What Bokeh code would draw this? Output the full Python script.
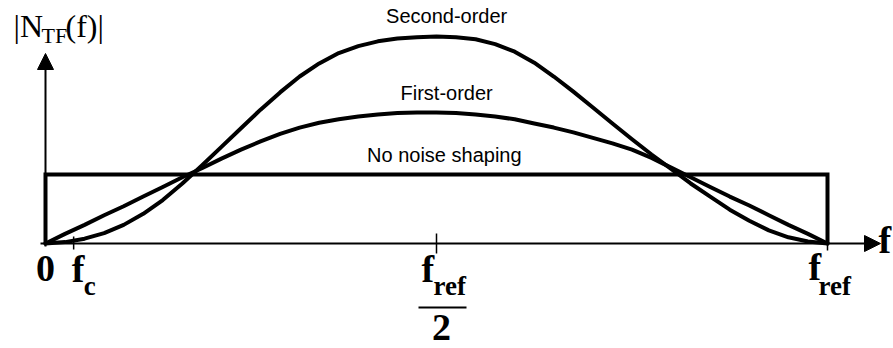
from bokeh.plotting import figure
from bokeh.models import Range1d, Label, Arrow, NormalHead
from bokeh.embed import file_html
from bokeh.resources import INLINE

# Frequency in units of f_ref, magnitude in units of the flat (unshaped) noise level
FREQ = [0.000, 0.025, 0.050, 0.075, 0.100, 0.125, 0.150, 0.175, 0.200, 0.225,
        0.250, 0.275, 0.300, 0.325, 0.350, 0.375, 0.400, 0.425, 0.450, 0.475,
        0.500, 0.525, 0.550, 0.575, 0.600, 0.625, 0.650, 0.675, 0.700, 0.725,
        0.750, 0.775, 0.800, 0.825, 0.850, 0.875, 0.900, 0.925, 0.950, 0.975, 1.000]
FIRST_ORDER = [0.00, 0.14, 0.27, 0.41, 0.54, 0.68, 0.82, 0.96, 1.09, 1.23,
               1.36, 1.48, 1.59, 1.68, 1.75, 1.80, 1.84, 1.87, 1.89, 1.90,
               1.90, 1.89, 1.87, 1.84, 1.80, 1.74, 1.68, 1.61, 1.53, 1.45,
               1.36, 1.24, 1.10, 0.96, 0.82, 0.68, 0.55, 0.41, 0.27, 0.14, 0.00]
SECOND_ORDER = [0.00, 0.02, 0.07, 0.15, 0.27, 0.43, 0.63, 0.87, 1.13, 1.40,
                1.67, 1.94, 2.19, 2.42, 2.61, 2.76, 2.86, 2.93, 2.97, 2.99,
                3.00, 2.99, 2.96, 2.89, 2.78, 2.62, 2.42, 2.20, 1.97, 1.74,
                1.51, 1.29, 1.08, 0.87, 0.68, 0.49, 0.33, 0.19, 0.09, 0.03, 0.00]
FLAT_LEVEL = 1.0
FLAT_SPAN = [0.0, 1.0]

FC = 0.036
HALF = 0.5
FREF = 1.0

CURVE_LABELS = ["Second-order", "First-order", "No noise shaping"]

# page geometry: where f = 0 / magnitude = 0 sit and how many pixels per unit
W, H = 893, 348
X0_PX, X_UNIT_PX = 45, 782
Y0_PX, Y_UNIT_PX = 243, 69


def below(px):
    """data y for a point `px` pixels from the top of the page"""
    return (Y0_PX - px) / Y_UNIT_PX


p = figure(width=W, height=H,
           x_range=Range1d(-X0_PX / X_UNIT_PX, (W - X0_PX) / X_UNIT_PX),
           y_range=Range1d(-(H - Y0_PX) / Y_UNIT_PX, Y0_PX / Y_UNIT_PX),
           toolbar_location=None, output_backend="svg",
           x_axis_location=None, y_axis_location=None,
           min_border=0, outline_line_color=None,
           background_fill_color="white", border_fill_color="white")
p.grid.visible = False

# axes drawn as arrows
p.add_layout(Arrow(end=NormalHead(size=16, fill_color="black", line_color="black", line_width=1),
                   x_start=-5 / X_UNIT_PX, y_start=0, x_end=(880 - X0_PX) / X_UNIT_PX, y_end=0,
                   line_color="black", line_width=2))
p.add_layout(Arrow(end=NormalHead(size=16, fill_color="black", line_color="black", line_width=1),
                   x_start=0, y_start=below(246), x_end=0, y_end=below(53),
                   line_color="black", line_width=2))

# tick marks on the frequency axis
p.segment(x0=[FC, HALF, FREF], y0=[below(236), below(233), 0],
          x1=[FC, HALF, FREF], y1=[below(249), below(253), below(250)],
          line_color="black", line_width=1.5)

# no noise shaping: flat level across the band
p.line([FLAT_SPAN[0], FLAT_SPAN[0], FLAT_SPAN[1], FLAT_SPAN[1]],
       [0, FLAT_LEVEL, FLAT_LEVEL, 0],
       line_color="black", line_width=4, line_join="miter")

# shaped noise transfer functions
p.line(FREQ, FIRST_ORDER, line_color="black", line_width=4, line_join="round", line_cap="round")
p.line(FREQ, SECOND_ORDER, line_color="black", line_width=4, line_join="round", line_cap="round")


def label(text, x, dx, base_px, size_px, font="Liberation Serif", style="bold", align="left"):
    # the label box sits a little below its anchor, so lift it by a share of the font size
    y = below(base_px - 0.44 * size_px)
    p.add_layout(Label(x=x, y=y, x_offset=dx, text=text, text_font=font,
                       text_font_size=f"{size_px}px", text_font_style=style, text_align=align,
                       text_baseline="alphabetic", text_color="black"))


SANS = "Liberation Sans"
label(CURVE_LABELS[0], 0.513, 0, 24, 20, font=SANS, style="normal", align="center")
label(CURVE_LABELS[1], 0.513, 0, 101, 20, font=SANS, style="normal", align="center")
label(CURVE_LABELS[2], 0.510, 0, 163, 20, font=SANS, style="normal", align="center")

# tick labels
MAIN, SUB = 38, 27
label("0", 0, 0, 285, MAIN, align="center")
label("f", FC, -2, 285, MAIN)
label("c", FC, 10, 297, SUB)
label("f", HALF, -15, 285, MAIN)
label("ref", HALF, -3, 297, SUB)
p.segment(x0=[HALF - 18 / X_UNIT_PX], y0=[below(307)], x1=[HALF + 30 / X_UNIT_PX], y1=[below(307)],
          line_color="black", line_width=2)
label("2", HALF, 5, 344, MAIN, align="center")
label("f", FREF, -19, 283, MAIN)
label("ref", FREF, -9, 297, SUB)
label("f", FREF, 51, 256, MAIN)

# magnitude axis title |N_TF(f)|
label("|N", 0, -32, 40, 32, style="normal")
label("TF", 0, -4, 45, 22, style="normal")
label("(f)|", 0, 20, 40, 32, style="normal")

open("out.html", "w").write(file_html(p, INLINE))
